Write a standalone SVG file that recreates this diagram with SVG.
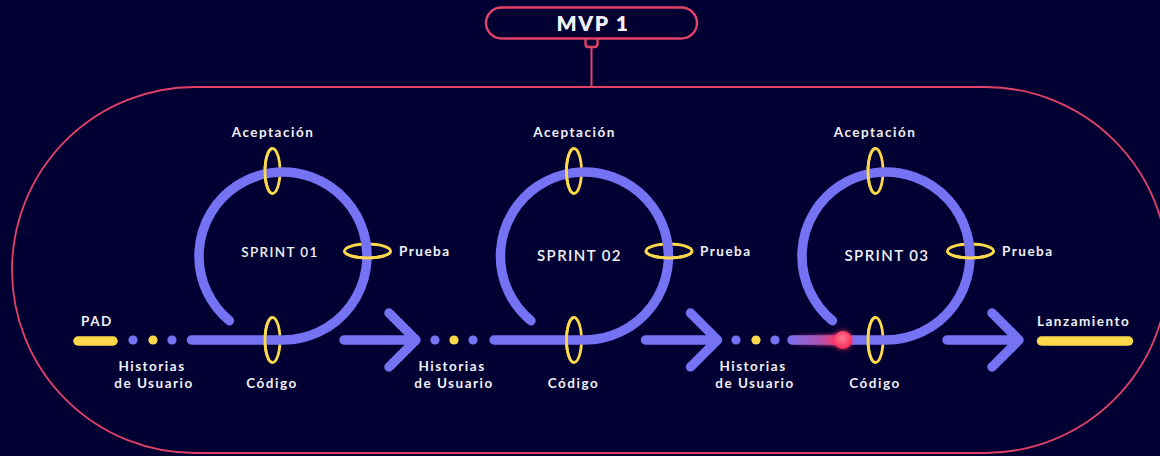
<svg xmlns="http://www.w3.org/2000/svg" width="1160" height="456" viewBox="0 0 1160 456">
<defs>
<style>
.bg{fill:#020032}
.frame{fill:none;stroke:#e3416a;stroke-width:1.8}
.mvp{fill:#020032;stroke:#e3416a;stroke-width:2.4}
.loop{fill:none;stroke:#7573f4;stroke-width:9.5;stroke-linecap:round;stroke-linejoin:round}
.ring{fill:none;stroke:#fbd94a;stroke-width:2.8}
.bar{fill:none;stroke:#fbd94a;stroke-width:9.5;stroke-linecap:round}
.dotb{fill:#7573f4}
.doty{fill:#fbd94a}
.t{font-family:Lato,"Liberation Sans",sans-serif;font-weight:700;fill:#f0f0f6;font-size:13.5px;letter-spacing:1.5px}
.ts{font-family:Lato,"Liberation Sans",sans-serif;font-weight:600;fill:#f0f0f6;letter-spacing:1.4px}
.tm{font-family:Lato,"Liberation Sans",sans-serif;font-weight:800;fill:#f0f0f6;font-size:21px;letter-spacing:1.6px}
</style>
<linearGradient id="trail" gradientUnits="userSpaceOnUse" x1="788" y1="0" x2="843" y2="0">
<stop offset="0" stop-color="#ff3060" stop-opacity="0"/>
<stop offset="0.5" stop-color="#c84490" stop-opacity="0.55"/>
<stop offset="0.85" stop-color="#ff3462" stop-opacity="0.95"/>
<stop offset="1" stop-color="#ff3060" stop-opacity="1"/>
</linearGradient>
<radialGradient id="ball" cx="0.45" cy="0.4" r="0.6">
<stop offset="0" stop-color="#ff7a90"/>
<stop offset="1" stop-color="#ff2a58"/>
</radialGradient>
<filter id="blur" x="-20%" y="-100%" width="140%" height="300%"><feGaussianBlur stdDeviation="1.6"/></filter>
<filter id="glow" x="-100%" y="-100%" width="300%" height="300%"><feGaussianBlur stdDeviation="2.5"/></filter>
</defs>
<rect class="bg" x="0" y="0" width="1160" height="456"/>

<g id="mvp">
<rect class="frame" x="12" y="87" width="1156" height="366" rx="183" ry="183"/>
<line x1="591.5" y1="46" x2="591.5" y2="87" stroke="#e3416a" stroke-width="2"/>
<path d="M585.5 39 V44 Q585.5 47 588.5 47 H594.5 Q597.5 47 597.5 44 V39" class="mvp"/>
<rect class="mvp" x="486" y="7.5" width="211" height="31" rx="15.5"/>
<text class="tm" x="593" y="31" text-anchor="middle">MVP 1</text>
</g>

<g id="pad">
<line class="bar" x1="78" y1="341" x2="113" y2="341"/>
<text class="t" x="81" y="326">PAD</text>
</g>

<g id="sprint-01">
<ellipse class="ring" cx="272.5" cy="171" rx="7.5" ry="22.5"/>
<ellipse class="ring" cx="272.5" cy="340" rx="7.5" ry="22.5"/>
<ellipse class="ring" cx="367.5" cy="251" rx="23" ry="7"/>
<path class="loop" d="M191.5 340 H283 A84 84 0 1 0 229.4 320.7"/>
<path class="ring" d="M272.5 148.5 A7.5 22.5 0 0 0 272.5 193.5"/>
<path class="ring" d="M272.5 317.5 A7.5 22.5 0 0 0 272.5 362.5"/>
<path class="ring" d="M344.5 251 A23 7 0 0 0 390.5 251"/>
<text class="t" x="273" y="137" text-anchor="middle">Aceptación</text>
<text class="ts" x="280" y="257" font-size="13.5" text-anchor="middle">SPRINT 01</text>
<text class="t" x="399" y="256">Prueba</text>
<text class="t" x="272" y="388" text-anchor="middle">Código</text>
</g>

<g id="sprint-02">
<ellipse class="ring" cx="574" cy="171" rx="7.5" ry="22.5"/>
<ellipse class="ring" cx="574" cy="340" rx="7.5" ry="22.5"/>
<ellipse class="ring" cx="669" cy="251" rx="23" ry="7"/>
<path class="loop" d="M494 340 H584.5 A84 84 0 1 0 530.9 320.7"/>
<path class="ring" d="M574 148.5 A7.5 22.5 0 0 0 574 193.5"/>
<path class="ring" d="M574 317.5 A7.5 22.5 0 0 0 574 362.5"/>
<path class="ring" d="M646 251 A23 7 0 0 0 692 251"/>
<text class="t" x="574.5" y="137" text-anchor="middle">Aceptación</text>
<text class="ts" x="579.5" y="261" font-size="15" text-anchor="middle">SPRINT 02</text>
<text class="t" x="700" y="256">Prueba</text>
<text class="t" x="573.5" y="388" text-anchor="middle">Código</text>
</g>

<g id="sprint-03">
<ellipse class="ring" cx="875.5" cy="171" rx="7.5" ry="22.5"/>
<ellipse class="ring" cx="875.5" cy="340" rx="7.5" ry="22.5"/>
<ellipse class="ring" cx="970.5" cy="251" rx="23" ry="7"/>
<path class="loop" d="M792 340 H886 A84 84 0 1 0 832.4 320.7"/>
<rect x="788" y="334.5" width="55" height="11" rx="5.5" fill="url(#trail)" filter="url(#blur)"/>
<circle cx="843" cy="340" r="9.5" fill="#ff3060" opacity="0.75" filter="url(#glow)"/>
<circle cx="843" cy="340" r="9" fill="url(#ball)"/>
<path class="ring" d="M875.5 148.5 A7.5 22.5 0 0 0 875.5 193.5"/>
<path class="ring" d="M875.5 317.5 A7.5 22.5 0 0 0 875.5 362.5"/>
<path class="ring" d="M947.5 251 A23 7 0 0 0 993.5 251"/>
<text class="t" x="875" y="137" text-anchor="middle">Aceptación</text>
<text class="ts" x="887" y="261" font-size="15" text-anchor="middle">SPRINT 03</text>
<text class="t" x="1002" y="256">Prueba</text>
<text class="t" x="875" y="388" text-anchor="middle">Código</text>
</g>

<g id="lanzamiento">
<line class="bar" x1="1041.5" y1="341" x2="1128.5" y2="341"/>
<text class="t" x="1037" y="326">Lanzamiento</text>
</g>

<g id="historias">
<text class="t" x="152" y="371" text-anchor="middle">Historias</text>
<text class="t" x="154" y="388" text-anchor="middle">de Usuario</text>
<text class="t" x="452" y="371" text-anchor="middle">Historias</text>
<text class="t" x="454" y="388" text-anchor="middle">de Usuario</text>
<text class="t" x="753" y="371" text-anchor="middle">Historias</text>
<text class="t" x="755" y="388" text-anchor="middle">de Usuario</text>
</g>

<g id="connectors">
<circle class="dotb" cx="133" cy="340" r="4.6"/>
<circle class="doty" cx="153" cy="340" r="4.6"/>
<circle class="dotb" cx="172" cy="340" r="4.6"/>
<path class="loop" d="M344 340 H416 M389 313 L416 340 L389 367"/>
<circle class="dotb" cx="435" cy="340" r="4.6"/>
<circle class="doty" cx="454" cy="340" r="4.6"/>
<circle class="dotb" cx="473" cy="340" r="4.6"/>
<path class="loop" d="M645.5 340 H717.5 M690.5 313 L717.5 340 L690.5 367"/>
<circle class="dotb" cx="736" cy="340" r="4.6"/>
<circle class="doty" cx="756" cy="340" r="4.6"/>
<circle class="dotb" cx="775" cy="340" r="4.6"/>
<path class="loop" d="M947 340 H1019 M992 313 L1019 340 L992 367"/>
</g>
</svg>
